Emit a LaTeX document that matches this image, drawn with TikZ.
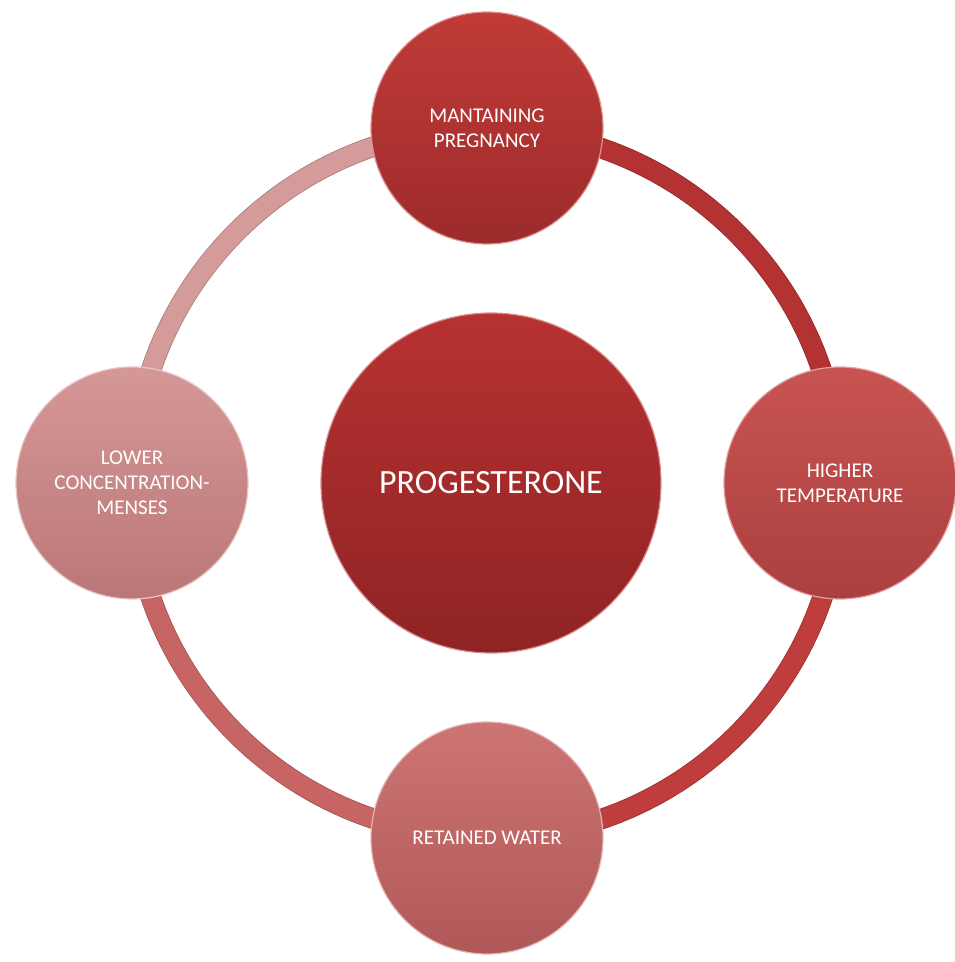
\documentclass[tikz,border=0pt]{standalone}
\usepackage{fontspec}
\setmainfont{Carlito}
\usepackage{xcolor}
\usetikzlibrary{positioning, backgrounds}

\definecolor{progTop}{HTML}{B73231}
\definecolor{progBot}{HTML}{8F2324}
\definecolor{pregTop}{HTML}{C13B37}
\definecolor{pregBot}{HTML}{9C2B2B}
\definecolor{tempTop}{HTML}{C95452}
\definecolor{tempBot}{HTML}{A9403F}
\definecolor{waterTop}{HTML}{CD7573}
\definecolor{waterBot}{HTML}{AF5857}
\definecolor{mensTop}{HTML}{D59896}
\definecolor{mensBot}{HTML}{BB7778}
\definecolor{ringUR}{HTML}{B43232}
\definecolor{ringLR}{HTML}{BF3D3D}
\definecolor{ringLL}{HTML}{C76565}
\definecolor{ringUL}{HTML}{D59A9A}

\begin{document}
\begin{tikzpicture}[
        x=1pt, y=1pt,
        bubble/.style 2 args={circle, minimum size=232pt, inner sep=0pt,
            align=center, text=white, font=\fontsize{21}{25}\selectfont,
            shading=axis, top color=#1, bottom color=#2,
            draw=white!45!#1, line width=1.2pt},
        ring/.style={draw=#1!80!black, line width=0.8pt,
            double=#1, double distance=19pt}
    ]
        \useasboundingbox (0,0) rectangle (955,962);

        % ring nodes
        \node[bubble={pregTop}{pregBot}] (preg) at (487,834) {MANTAINING\\PREGNANCY};
        \node[bubble={tempTop}{tempBot}] (temp) at (840,479) {HIGHER\\TEMPERATURE};
        \node[bubble={waterTop}{waterBot}] (water) at (487,124) {RETAINED WATER};
        \node[bubble={mensTop}{mensBot}] (mens) at (132,479) {LOWER\\CONCENTRATION-\\MENSES};

        % centre
        \node[bubble={progTop}{progBot}, minimum size=340pt,
            font=\fontsize{34}{40}\selectfont] (prog) at (491,479) {PROGESTERONE};

        % ring between the nodes
        \begin{scope}[on background layer]
            \draw[ring=ringUR] (temp.center) arc[start angle=0, end angle=90, radius=354];
            \draw[ring=ringUL] (preg.center) arc[start angle=90, end angle=180, radius=354];
            \draw[ring=ringLL] (mens.center) arc[start angle=180, end angle=270, radius=354];
            \draw[ring=ringLR] (water.center) arc[start angle=270, end angle=360, radius=354];
        \end{scope}
    \end{tikzpicture}
\end{document}
